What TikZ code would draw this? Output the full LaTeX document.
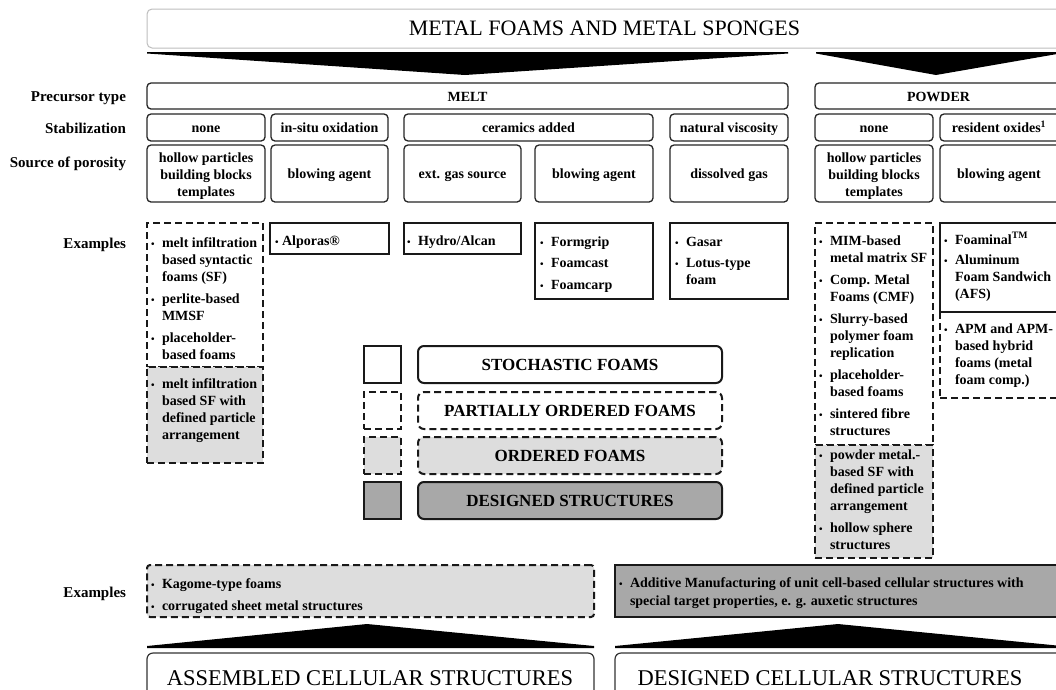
\documentclass[tikz,border=0pt]{standalone}
\usepackage{fontspec}
\setmainfont{Liberation Serif}
\definecolor{lg}{RGB}{221,221,221}
\definecolor{dg}{RGB}{168,168,168}
\definecolor{tgray}{RGB}{190,190,190}
\newcommand\mybul{\strut\makebox[11pt][l]{\fontsize{10}{10}\selectfont\textbullet}}
\newcommand\myind{\hspace*{11pt}}
\newcommand\bx[7]{\node[#2, minimum width={#5-#3}, minimum height={#6-#4}] (#1) at ({(#3+#5)/2},{(#4+#6)/2}) {#7};}
\newcommand\tx[5][]{\node[txt,#1] (#2) at (#3,{#4-11.9}) {#5};}
\tikzset{
  every node/.style={inner sep=0pt, outer sep=0pt},
  bfont/.style={font=\fontsize{14}{17}\selectfont\bfseries},
  titlebox/.style={draw=tgray, line width=1pt, rounded corners=5pt, font=\fontsize{22}{24}\selectfont},
  catbox/.style={draw=black!85, line width=1.3pt, rounded corners=4pt, bfont, align=center},
  catone/.style={catbox, text height=12pt, text depth=2pt},
  cattext/.style={bfont, align=center},
  exs/.style={draw=black!90, line width=2pt},
  exd/.style={draw=black!90, line width=2pt, dash pattern=on 7pt off 4pt},
  lgbox/.style={draw=black!90, line width=2pt, rounded corners=6pt, font=\fontsize{17}{19}\selectfont\bfseries, text height=12pt, text depth=1pt},
  lbl/.style={font=\fontsize{15}{17}\selectfont\bfseries, anchor=base east},
  txt/.style={bfont, align=left, anchor=north west},
  botbox/.style={draw=black!80, line width=1.2pt, rounded corners=6pt},
  bigtxt/.style={font=\fontsize{22.5}{26}\selectfont, anchor=base},
}
\begin{document}
\begin{tikzpicture}[x=1pt,y=-1pt]
\useasboundingbox (0,0) rectangle (1056,689);
\clip (0,0) rectangle (1056,689);
\fill[white] (0,0) rectangle (1056,689);

% title
\bx{title}{titlebox}{147}{9}{1062}{48}{METAL FOAMS AND METAL SPONGES}
\fill (147,52) -- (788,52) -- (788,53.5) -- (465,75) -- (147,53.5) -- cycle;
\fill (816,52) -- (1060,52) -- (1060,53.5) -- (936,75) -- (816,53.5) -- cycle;

% row labels
\node[lbl] (lprec) at (126,101) {Precursor type};
\node[lbl] (lstab) at (126,133) {Stabilization};
\node[lbl] (lsrc) at (126,167) {Source of porosity};
\node[lbl] (lex1) at (126,248) {Examples};
\node[lbl] (lex2) at (126,597) {Examples};

% precursor
\bx{melt}{catone}{147}{83}{788}{109}{MELT}
\bx{powder}{catone}{815}{83}{1062}{109}{POWDER}
% stabilization
\bx{s1}{catone}{147}{114}{265}{141}{none}
\bx{s2}{catone}{271}{114}{388}{141}{in-situ oxidation}
\bx{s3}{catone}{404}{114}{653}{141}{ceramics added}
\bx{s4}{catone}{670}{114}{788}{141}{natural viscosity}
\bx{s5}{catone}{815}{114}{933}{141}{none}
\bx{s6}{catone}{940}{114}{1062}{141}{\hspace*{-4pt}resident oxides\textsuperscript{1}}
% source of porosity
\bx{p1}{catbox}{147}{145}{265}{202}{}
\node[cattext] (p1t) at (206,176) {hollow particles\\building blocks\\templates};
\bx{p2}{catone}{271}{145}{388}{202}{blowing agent}
\bx{p3}{catone}{404}{145}{521}{202}{ext. gas source}
\bx{p4}{catone}{535}{145}{653}{202}{blowing agent}
\bx{p5}{catone}{670}{145}{788}{202}{dissolved gas}
\bx{p6}{catbox}{815}{145}{933}{202}{}
\node[cattext] (p6t) at (874,176) {hollow particles\\building blocks\\templates};
\bx{p7}{catone}{940}{145}{1062}{202}{\hspace*{-4pt}blowing agent}

% examples boxes
\bx{e1}{exd}{147}{223}{263}{367}{}
\bx{e1g}{exd,fill=lg}{147}{367}{263}{463}{}
\bx{e2}{exs}{270}{223}{389}{254}{}
\bx{e3}{exs}{404}{223}{521}{254}{}
\bx{e4}{exs}{535}{223}{653}{299}{}
\bx{e5}{exs}{670}{223}{788}{299}{}
\bx{e6}{exd}{815}{223}{933}{445}{}
\bx{e6g}{exd,fill=lg}{815}{445}{933}{558}{}
\bx{e7}{exs}{940}{223}{1062}{312}{}
\bx{e8}{exd}{940}{312}{1062}{398}{}

\tx{t1}{151}{247}{\mybul melt infiltration\\\myind based syntactic\\\myind foams (SF)\\[5pt]\mybul perlite-based\\\myind MMSF\\[5pt]\mybul placeholder-\\\myind based foams}
\tx{t1g}{151}{388}{\mybul melt infiltration\\\myind based SF with\\\myind defined particle\\\myind arrangement}
\tx{t2}{275}{245}{\strut\makebox[7pt][l]{\fontsize{10}{10}\selectfont\textbullet}Alporas®}
\tx{t3}{407}{245}{\mybul Hydro/Alcan}
\tx{t4}{540}{246}{\mybul Formgrip\\[4.5pt]\mybul Foamcast\\[4.5pt]\mybul Foamcarp}
\tx{t5}{675}{246}{\mybul Gasar\\[4.5pt]\mybul Lotus-type\\\myind foam}
\tx{t6}{819}{245}{\mybul MIM-based\\\myind metal matrix SF\\[5pt]\mybul Comp. Metal\\\myind Foams (CMF)\\[5pt]\mybul Slurry-based\\\myind polymer foam\\\myind replication\\[5pt]\mybul placeholder-\\\myind based foams\\[5pt]\mybul sintered fibre\\\myind structures}
\tx{t6g}{819}{459}{\mybul powder metal.-\\\myind based SF with\\\myind defined particle\\\myind arrangement\\[5pt]\mybul hollow sphere\\\myind structures}
\tx{t7}{944}{244}{\mybul Foaminal\textsuperscript{TM}\\[3pt]\mybul Aluminum\\\myind Foam Sandwich\\\myind (AFS)}
\tx{t8}{944}{333}{\mybul APM and APM-\\\myind based hybrid\\\myind foams (metal\\\myind foam comp.)}

% legend
\bx{q1}{exs}{364}{346}{401}{383}{}
\bx{q2}{exd}{364}{392}{401}{429}{}
\bx{q3}{exd,fill=lg}{364}{437}{401}{474}{}
\bx{q4}{exs,fill=dg}{364}{482}{401}{519}{}
\bx{l1}{lgbox}{418}{346}{722}{383}{STOCHASTIC FOAMS}
\bx{l2}{lgbox,dash pattern=on 7pt off 4pt}{418}{392}{722}{429}{PARTIALLY ORDERED FOAMS}
\bx{l3}{lgbox,dash pattern=on 7pt off 4pt,fill=lg}{418}{437}{722}{474}{ORDERED FOAMS}
\bx{l4}{lgbox,fill=dg}{418}{482}{722}{519}{DESIGNED STRUCTURES}

% bottom examples
\bx{b1}{exd,fill=lg,rounded corners=3pt}{147}{565}{594}{617}{}
\bx{b2}{exs,fill=dg}{615}{565}{1062}{617}{}
\tx[font=\fontsize{14}{18}\selectfont\bfseries]{tb1}{151}{588}{\mybul Kagome-type foams\\[4pt]\mybul corrugated sheet metal structures}
\tx[font=\fontsize{14}{18}\selectfont\bfseries]{tb2}{619}{587}{\mybul Additive Manufacturing of unit cell-based cellular structures with\\\myind special target properties, e. g. auxetic structures}

% bottom arrows
\fill (147,648) -- (594,648) -- (594,646) -- (367,624) -- (147,646) -- cycle;
\fill (615,648) -- (1062,648) -- (1062,646) -- (838,624) -- (615,646) -- cycle;

% bottom boxes
\bx{f1}{botbox}{147}{653}{594}{705}{}
\bx{f2}{botbox}{615}{653}{1062}{705}{}
\node[bigtxt] (f1t) at (370,685) {ASSEMBLED CELLULAR STRUCTURES};
\node[bigtxt] (f2t) at (830,685) {DESIGNED CELLULAR STRUCTURES};
\end{tikzpicture}
\end{document}
